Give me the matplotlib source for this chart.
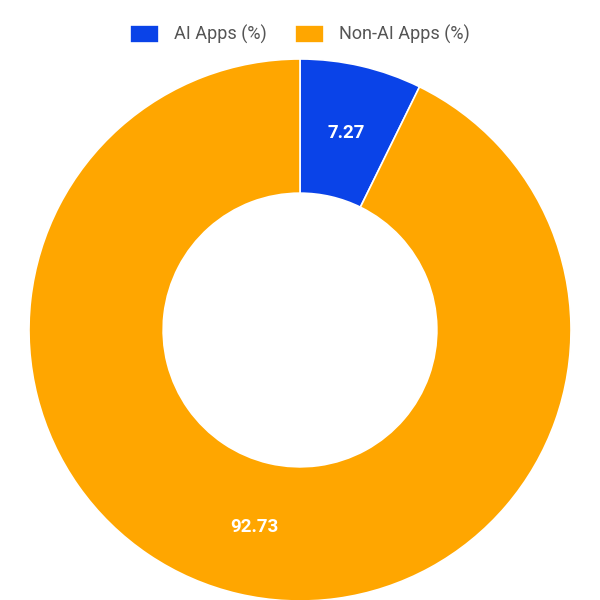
import matplotlib.pyplot as plt

labels = ["AI Apps (%)", "Non-AI Apps (%)"]
values = [7.27, 92.73]
colors = ["#0a43e8", "#ffa600"]

plt.rcParams["font.family"] = ["Roboto", "DejaVu Sans"]

fig = plt.figure(figsize=(6, 6), dpi=100)
ax = fig.add_axes([29 / 600, -1 / 600, 542 / 600, 542 / 600])

wedges, texts, autotexts = ax.pie(
    values,
    colors=colors,
    startangle=90,
    counterclock=False,
    autopct=lambda p: f"{p:.2f}",
    pctdistance=0.745,
    wedgeprops=dict(width=0.495, edgecolor="white", linewidth=1.2),
    textprops=dict(color="white", fontsize=13.5, fontweight="bold"),
)
ax.set_aspect("equal")
ax.set_xlim(-1, 1)
ax.set_ylim(-1, 1)

fig.legend(wedges, labels, loc="upper center", bbox_to_anchor=(0.5, 0.985),
           ncol=2, frameon=False, fontsize=13, labelcolor="#555555",
           handlelength=1.6, handleheight=1.1, columnspacing=1.6)

fig.savefig("out.png", dpi=100)
